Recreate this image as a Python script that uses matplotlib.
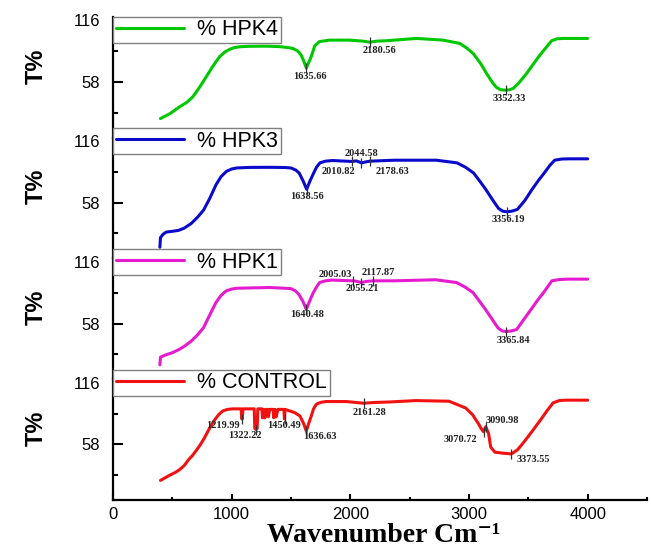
import matplotlib
matplotlib.use("Agg")
import matplotlib.pyplot as plt
from matplotlib.transforms import blended_transform_factory
from matplotlib.ticker import FixedLocator

# ---------------- data ----------------
names = ["% HPK4", "% HPK3", "% HPK1", "% CONTROL"]
colors = ["#00C800", "#0A0ACD", "#E61ACF", "#F21111"]

hpk4_x = [400, 480, 560, 620, 672, 730, 785, 840, 897, 940, 981, 1020, 1066, 1150, 1291, 1400, 1480, 1516,
          1555, 1586, 1610, 1629, 1650, 1671, 1700, 1740, 1825, 1994, 2100, 2163, 2230, 2304, 2557, 2781,
          2922, 2980, 3035, 3100, 3148, 3200, 3232, 3270, 3308, 3340, 3372, 3420, 3485, 3540, 3597, 3650,
          3696, 3740, 3794, 4000]
hpk4_y = [23.4, 28.0, 34.4, 38.5, 43.8, 53.0, 62.7, 72.5, 81.6, 86.0, 88.6, 90.3, 91.1, 91.6, 91.7, 91.3, 90.3, 89.5,
          87.3, 83.2, 77.0, 71.0, 76.5, 82.0, 92.0, 96.0, 97.4, 97.4, 96.5, 95.5, 96.5, 96.8, 99.0, 97.4,
          94.3, 90.0, 84.8, 75.0, 65.9, 57.0, 52.7, 50.5, 50.2, 50.5, 51.8, 57.0, 65.9, 74.5, 83.2, 90.5,
          96.8, 98.6, 99.0, 99.0]

hpk3_x = [395, 400, 420, 448, 500, 553, 600, 658, 710, 763, 815, 868, 910, 956, 1000, 1043, 1150, 1324, 1450,
          1499, 1540, 1569, 1600, 1632, 1660, 1691, 1715, 1744, 1790, 1849, 2017, 2050, 2094, 2130, 2164,
          2374, 2724, 2899, 2970, 3039, 3090, 3144, 3200, 3249, 3285, 3319, 3360, 3407, 3470, 3529, 3585,
          3634, 3680, 3722, 3780, 3845, 4000]
hpk3_y = [16.0, 25.0, 28.0, 30.3, 31.0, 31.9, 34.0, 38.3, 44.0, 51.0, 62.0, 74.9, 82.5, 87.6, 89.8, 90.8, 91.3, 91.4,
          91.2, 90.8, 88.8, 86.0, 79.0, 70.7, 78.5, 86.0, 91.5, 95.6, 97.2, 97.8, 96.9, 97.5, 95.6, 96.5, 97.2,
          98.1, 98.1, 95.6, 91.5, 86.0, 78.5, 70.1, 60.5, 52.6, 50.0, 49.4, 50.0, 51.6, 60.0, 70.1, 79.0,
          86.0, 93.0, 98.1, 99.2, 99.4, 99.4]

hpk1_x = [395, 400, 447, 500, 552, 605, 657, 710, 762, 815, 867, 910, 954, 1000, 1042, 1321, 1496, 1535, 1566,
          1600, 1629, 1658, 1688, 1715, 1741, 1790, 1845, 2020, 2055, 2090, 2140, 2195, 2370, 2719, 2894,
          2965, 3034, 3085, 3139, 3195, 3244, 3280, 3314, 3355, 3401, 3460, 3523, 3578, 3628, 3665, 3698,
          3760, 3838, 4000]
hpk1_y = [19.0, 26.3, 28.5, 30.5, 33.2, 36.8, 41.2, 47.0, 53.9, 66.0, 77.7, 84.5, 88.8, 90.5, 91.3, 92.0, 91.0, 89.0,
          85.6, 79.0, 71.3, 79.5, 87.2, 92.5, 96.7, 98.3, 99.0, 98.3, 97.8, 96.7, 97.8, 98.3, 98.3, 99.3, 96.7,
          92.5, 87.2, 79.5, 71.3, 62.0, 53.9, 51.0, 50.4, 51.0, 52.3, 61.5, 71.3, 80.0, 87.2, 93.0, 98.3,
          99.5, 99.9, 99.9]

ctrl_x = [400, 440, 480, 520, 560, 600, 640, 670, 700, 735, 770, 810, 850, 890, 925, 965, 1010, 1080, 1085,
          1090, 1095, 1190, 1195, 1205, 1215, 1220, 1255, 1260, 1270, 1280, 1290, 1305, 1310, 1320, 1350,
          1355, 1365, 1375, 1390, 1440, 1445, 1450, 1490, 1530, 1575, 1605, 1629, 1650, 1671, 1690, 1713,
          1750, 1797, 1966, 2112, 2200, 2332, 2552, 2832, 2972, 3030, 3077, 3105, 3123, 3135, 3141, 3165,
          3183, 3218, 3300, 3358, 3410, 3463, 3530, 3603, 3660, 3708, 3760, 3813, 4000]
ctrl_y = [24.0, 26.5, 29.0, 31.2, 34.0, 38.0, 44.0, 47.5, 52.0, 57.5, 64.0, 72.5, 80.0, 86.0, 89.5, 91.0, 91.5,
          91.5, 82.0, 82.0, 91.5, 91.5, 73.0, 72.0, 73.0, 91.5, 91.5, 83.0, 91.0, 83.0, 91.0, 91.0, 84.0,
          91.0, 91.0, 83.0, 91.0, 84.0, 91.0, 91.0, 82.0, 91.0, 89.5, 88.0, 84.8, 78.0, 70.6, 78.0, 84.8,
          91.5, 95.8, 97.6, 98.4, 98.4, 96.8, 97.5, 98.0, 99.3, 98.7, 92.3, 86.0, 77.9, 72.5, 69.9, 73.0,
          74.7, 68.3, 55.4, 50.6, 49.5, 49.0, 53.0, 60.2, 70.0, 81.1, 90.0, 97.1, 99.3, 99.7, 99.7]

series_x = [hpk4_x, hpk3_x, hpk1_x, ctrl_x]
series_y = [hpk4_y, hpk3_y, hpk1_y, ctrl_y]

# peak markers (x, y) per panel
marks = [
    [(1629, 71.0), (2163, 95.5), (3308, 50.2)],
    [(1632, 70.7), (2017, 96.9), (2094, 95.6), (2164, 97.2), (3319, 49.4)],
    [(1629, 71.3), (2020, 98.3), (2090, 96.7), (2195, 98.3), (3314, 50.4)],
    [(1088, 82.0), (1205, 72.0), (1446, 82.0), (1629, 70.6), (2112, 96.8), (3123, 69.9), (3141, 74.7), (3358, 49.0)],
]
# peak labels (text, x, y) per panel
peak_labels = [
    [("1635.66", 1660, 62.7), ("2180.56", 2247, 88.0), ("3352.33", 3342, 42.5)],
    [("1638.56", 1631, 63.8), ("2044.58", 2095, 104.0), ("2010.82", 1901, 87.5), ("2178.63", 2357, 87.5),
     ("3356.19", 3336, 41.7)],
    [("2005.03", 1871, 103.8), ("2117.87", 2234, 105.7), ("2055.21", 2101, 91.1), ("1640.48", 1639, 66.6),
     ("3365.84", 3372, 42.1)],
    [("1219.99", 925, 76.0), ("1322.22", 1111, 66.5), ("1450.49", 1440, 76.0), ("1636.63", 1747, 65.8),
     ("2161.28", 2163, 88.5), ("3090.98", 3281, 80.4), ("3070.72", 2929, 62.4), ("3373.55", 3544, 43.3)],
]

y_major = [58, 116]
y_minor = [29, 87]
x_major = [0, 1000, 2000, 3000, 4000]
x_minor = [500, 1500, 2500, 3500, 4500]

# ---------------- figure ----------------
W, H = 651, 547
fig = plt.figure(figsize=(W / 100, H / 100), dpi=100)
left = 113 / W
right = 647 / W
top = 1 - 16.7 / H
bottom = 1 - 500 / H
ph = (top - bottom) / 4
YLO, YHI = 5.5, 119.5

sans = ["Liberation Sans", "DejaVu Sans"]
serif = ["Liberation Serif", "DejaVu Serif"]

axes = []
for k in range(4):
    ax = fig.add_axes([left, bottom + (3 - k) * ph, right - left, ph])
    ax.set_facecolor("none")
    axes.append(ax)

for k, ax in enumerate(axes):
    line, = ax.plot(series_x[k], series_y[k], color=colors[k], lw=2.2, solid_joinstyle="round",
                    solid_capstyle="round", zorder=3)
    mx = [m[0] for m in marks[k]]
    my = [m[1] for m in marks[k]]
    ax.plot(mx, my, linestyle="none", marker="|", markersize=6.5, markeredgewidth=0.9,
            color="#333333", zorder=4)
    for txt, tx, ty in peak_labels[k]:
        ax.text(tx, ty, txt, ha="center", va="center", fontsize=7.5, fontweight="bold",
                family=serif, color="#222222", zorder=5)

    ax.set_xlim(0, 4500)
    ax.set_ylim(YLO, YHI)
    for s in ["top", "right"]:
        ax.spines[s].set_visible(False)
    ax.spines["left"].set_linewidth(1.6)
    ax.yaxis.set_major_locator(FixedLocator(y_major))
    ax.yaxis.set_minor_locator(FixedLocator(y_minor))
    ax.set_yticklabels([str(v) for v in y_major])
    ax.tick_params(axis="y", which="major", direction="in", length=7, width=1.5, pad=9.5,
                   labelsize=12)
    ax.tick_params(axis="y", which="minor", direction="in", length=3.5, width=1.5)
    for lab in ax.get_yticklabels():
        lab.set_family(sans)

    ax.xaxis.set_major_locator(FixedLocator(x_major))
    ax.xaxis.set_minor_locator(FixedLocator(x_minor))
    if k < 3:
        ax.spines["bottom"].set_visible(False)
        ax.tick_params(axis="x", which="both", bottom=False, labelbottom=False)
    else:
        ax.spines["bottom"].set_linewidth(1.6)
        ax.tick_params(axis="x", which="major", direction="in", length=4.5, width=1.5, pad=5,
                       labelsize=12)
        ax.tick_params(axis="x", which="minor", direction="in", length=2.5, width=1.5)
        for lab in ax.get_xticklabels():
            lab.set_family(sans)

    # legend box
    if k == 0:
        loc, anchor = "upper left", (0, 1)
    else:
        loc, anchor = "center left", (0, (116 - YLO) / (YHI - YLO))
    leg = ax.legend([line], [names[k]], loc=loc, bbox_to_anchor=anchor, frameon=True,
                    fancybox=False, framealpha=1, edgecolor="#808080", borderpad=0.12,
                    handlelength=3.2, handletextpad=0.6, borderaxespad=0,
                    prop={"family": sans, "size": 15.5})
    leg.get_frame().set_linewidth(1.0)
    leg.set_zorder(6)

    # y label
    tr = blended_transform_factory(fig.transFigure, ax.transData)
    ax.text(36 / W, 73, "T%", transform=tr, rotation=90, ha="center", va="center",
            fontsize=17, fontweight="bold", family=sans)

fig.text(384 / W, 1 - 536 / H, "Wavenumber Cm\u207b\u00b9", ha="center", va="center",
         fontsize=20, fontweight="bold", family=serif)

fig.savefig("out.png", dpi=100)
